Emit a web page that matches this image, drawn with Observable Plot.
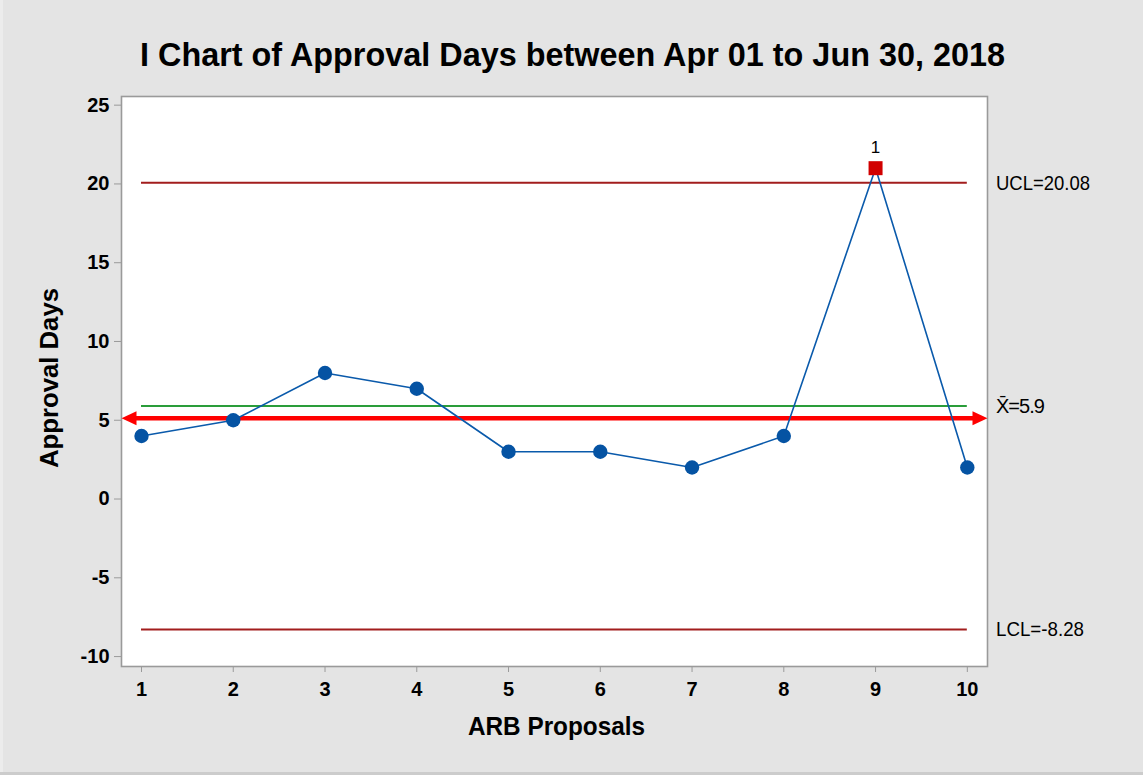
<!DOCTYPE html>
<html>
<head>
<meta charset="utf-8">
<script src="https://cdn.jsdelivr.net/npm/d3@7"></script>
<script src="https://cdn.jsdelivr.net/npm/@observablehq/plot@0.6"></script>
<style>
  html, body { margin: 0; padding: 0; background: #cccccc; }
  #wrap { width: 1140px; padding-left: 3px; background: #ececec; }
  #wrap svg { display: block; }
</style>
</head>
<body>
<div id="wrap"></div>
<script>
// ---- data ----
const proposals = [1, 2, 3, 4, 5, 6, 7, 8, 9, 10];
const approvalDays = [4, 5, 8, 7, 3, 3, 2, 4, 21, 2];
const limitNames = ["UCL", "X\u0304", "LCL"];
const limitValues = [20.08, 5.9, -8.28];
const limitLabels = ["20.08", "5.9", "-8.28"];
const targetValue = [5.13];           // red double arrow
const flaggedProposals = [9];         // failed test 1
const flagTests = ["1"];
const yTicks = [-10, -5, 0, 5, 10, 15, 20, 25];

const titleText = "I Chart of Approval Days between Apr 01 to Jun 30, 2018";
const xLabel = "ARB Proposals";
const yLabel = "Approval Days";

// ---- scales' domains ----
const xDomain = [0.782, 10.22];
const yDomain = [-10.63, 25.55];

const idx = proposals.map((_, i) => i);
const normalIdx = idx.filter(i => !flaggedProposals.includes(proposals[i]));
const flagIdx = idx.filter(i => flaggedProposals.includes(proposals[i]));

const leftHead = {draw(ctx) { ctx.moveTo(0, 0); ctx.lineTo(15, -7); ctx.lineTo(15, 7); ctx.closePath(); }};
const rightHead = {draw(ctx) { ctx.moveTo(0, 0); ctx.lineTo(-15, -7); ctx.lineTo(-15, 7); ctx.closePath(); }};

const font = "'Liberation Sans', Arial, Helvetica, sans-serif";

const chart = Plot.plot({
  width: 1140,
  height: 772,
  marginLeft: 118,
  marginRight: 156,
  marginTop: 96,
  marginBottom: 106,
  style: {background: "#e4e4e4", fontFamily: font, color: "black", overflow: "visible"},
  x: {domain: xDomain},
  y: {domain: yDomain},
  marks: [
    Plot.frame({fill: "white", stroke: "#9a9a9a", strokeWidth: 1.6}),
    Plot.axisX(proposals, {tickSize: 6, tickPadding: 9, stroke: "#9a9a9a", fill: "black", fontSize: 20, fontWeight: "bold", label: null, tickFormat: d => String(d)}),
    Plot.axisY(yTicks, {tickSize: 7, tickPadding: 5, stroke: "#9a9a9a", fill: "black", fontSize: 20, fontWeight: "bold", label: null, tickFormat: d => String(d)}),
    Plot.ruleY([limitValues[0], limitValues[2]], {x1: proposals[0], x2: proposals[proposals.length - 1], stroke: "#a21d1d", strokeWidth: 2}),
    Plot.ruleY([limitValues[1]], {x1: proposals[0], x2: proposals[proposals.length - 1], stroke: "#2a9d3a", strokeWidth: 2}),
    Plot.ruleY(targetValue, {x1: xDomain[0] + 0.1, x2: xDomain[1] - 0.1, stroke: "#ff0000", strokeWidth: 4.5}),
    Plot.dot(targetValue, {x: xDomain[0], y: d => d, symbol: leftHead, fill: "#ff0000"}),
    Plot.dot(targetValue, {x: xDomain[1], y: d => d, symbol: rightHead, fill: "#ff0000"}),
    Plot.line(idx, {x: i => proposals[i], y: i => approvalDays[i], stroke: "#0a5aab", strokeWidth: 1.6}),
    Plot.dot(normalIdx, {x: i => proposals[i], y: i => approvalDays[i], r: 7.2, fill: "#0553a3"}),
    Plot.dot(flagIdx, {x: i => proposals[i], y: i => approvalDays[i], r: 7.9, symbol: "square", fill: "#d10000"}),
    Plot.text(flagIdx, {x: i => proposals[i], y: i => approvalDays[i], text: (i, k) => flagTests[k], dy: -21, fontSize: 17, fill: "black"})
  ]
});

document.getElementById("wrap").appendChild(chart);

const sx = chart.scale("x"), sy = chart.scale("y");
const svg = d3.select(chart);

// enlarge axis tick labels
svg.selectAll('g[aria-label="x-axis tick label"], g[aria-label="y-axis tick label"]')
  .style("font-size", "20px").style("font-weight", "bold");
svg.selectAll('g[aria-label="x-axis tick label"] text, g[aria-label="y-axis tick label"] text')
  .style("font-size", "20px");

svg.append("text")
  .attr("x", 569.5).attr("y", 66)
  .attr("text-anchor", "middle")
  .attr("font-family", font).attr("font-size", 34).attr("font-weight", "bold")
  .attr("textLength", 865).attr("lengthAdjust", "spacingAndGlyphs")
  .attr("fill", "black")
  .text(titleText);

svg.append("text")
  .attr("x", 553.5).attr("y", 735)
  .attr("text-anchor", "middle")
  .attr("font-family", font).attr("font-size", 26).attr("font-weight", "bold")
  .attr("textLength", 177).attr("lengthAdjust", "spacingAndGlyphs")
  .attr("fill", "black")
  .text(xLabel);

svg.append("text")
  .attr("transform", "translate(55,378) rotate(-90)")
  .attr("text-anchor", "middle")
  .attr("font-family", font).attr("font-size", 25).attr("font-weight", "bold")
  .attr("textLength", 180).attr("lengthAdjust", "spacingAndGlyphs")
  .attr("fill", "black")
  .text(yLabel);

const labelX = sx.apply(xDomain[1]) + 9;
const labelLens = [94, null, 88];
limitNames.forEach((name, k) => {
  const t = svg.append("text")
    .attr("x", labelX).attr("y", sy.apply(limitValues[k]) + 7.5)
    .attr("text-anchor", "start")
    .attr("font-family", font).attr("font-size", 20)
    .attr("fill", "black")
    .text(name + "=" + limitLabels[k]);
  if (labelLens[k]) t.attr("textLength", labelLens[k]).attr("lengthAdjust", "spacingAndGlyphs");
  else t.attr("letter-spacing", "-1");
});
</script>
</body>
</html>
